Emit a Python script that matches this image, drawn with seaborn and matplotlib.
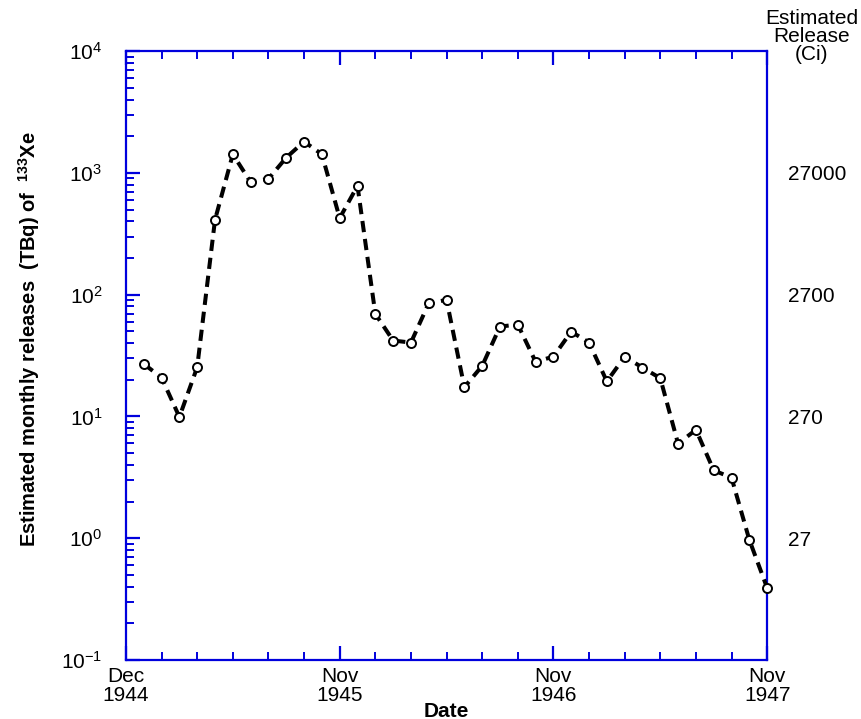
import numpy as np
import pandas as pd
import matplotlib
matplotlib.use("Agg")
import matplotlib.pyplot as plt
import seaborn as sns
from matplotlib.ticker import LogLocator, NullFormatter, FixedLocator, MultipleLocator

# ---- data (months after Dec 1944) ----
months = list(range(1, 37))
releases_tbq = [27, 20.8, 9.9, 25.4, 412, 1420, 839, 893, 1334, 1806, 1420, 425,
                782, 69.5, 42, 40.4, 85, 90.5, 17.4, 26, 54.7, 56.8, 28.1, 31,
                49.7, 40.4, 19.4, 30.9, 25.2, 20.6, 5.97, 7.78, 3.61, 3.14, 0.97, 0.39]
x_tick_pos = [0, 12, 24, 36]
x_tick_labels = ["Dec\n1944", "Nov\n1945", "Nov\n1946", "Nov\n1947"]
y_ticks = [1e-1, 1e0, 1e1, 1e2, 1e3, 1e4]
y_tick_labels = [r"$\mathregular{10^{-1}}$", r"$\mathregular{10^{0}}$", r"$\mathregular{10^{1}}$",
                 r"$\mathregular{10^{2}}$", r"$\mathregular{10^{3}}$", r"$\mathregular{10^{4}}$"]
ci_ticks = [1e0, 1e1, 1e2, 1e3]
ci_labels = ["27", "270", "2700", "27000"]

df = pd.DataFrame({"month": months, "release": releases_tbq})

sns.set_style("white")
plt.rcParams["font.family"] = ["Liberation Sans", "DejaVu Sans"]
plt.rcParams["mathtext.fontset"] = "custom"
plt.rcParams["mathtext.rm"] = "Liberation Sans"
plt.rcParams["mathtext.bf"] = "Liberation Sans:bold"
plt.rcParams["mathtext.it"] = "Liberation Sans:italic"
plt.rcParams["text.color"] = "black"
plt.rcParams["axes.labelcolor"] = "black"

fig = plt.figure(figsize=(8.61, 7.19), dpi=100)
ax = fig.add_axes([0.1463, 0.082, 0.891 - 0.1463, 0.929 - 0.082])

sns.lineplot(data=df, x="month", y="release", ax=ax, color="black",
             linestyle=(0, (2.8, 1.7)), linewidth=2.9, marker="o", markersize=6.5,
             markerfacecolor="white", markeredgecolor="black", markeredgewidth=1.4,
             zorder=3, clip_on=False)

ax.set_yscale("log")
ax.set_ylim(1e-1, 1e4)
ax.set_xlim(0, 36)

blue = "#0000dd"
for sp in ax.spines.values():
    sp.set_color(blue)
    sp.set_linewidth(1.6)
    sp.set_visible(True)

ax.set_yticks(y_ticks)
ax.set_yticklabels(y_tick_labels)
ax.yaxis.set_minor_locator(LogLocator(base=10, subs=np.arange(2, 10), numticks=20))
ax.yaxis.set_minor_formatter(NullFormatter())
ax.set_xticks(x_tick_pos)
ax.set_xticklabels(x_tick_labels, linespacing=1.0)
ax.xaxis.set_minor_locator(MultipleLocator(2))

ax.tick_params(which="major", direction="in", length=10, width=1.6, color=blue,
               labelcolor="black", labelsize=15, top=True, right=True, left=True,
               bottom=True)
ax.tick_params(which="minor", direction="in", length=6, width=1.4, color=blue,
               top=True, right=True, left=True, bottom=True)
ax.tick_params(axis="y", which="major", pad=17)
ax.tick_params(axis="x", which="major", pad=5)

ax.set_xlabel("Date", fontsize=15, fontweight="bold", labelpad=-2.5)
ax.set_ylabel(r"Estimated monthly releases  (TBq) of  $\mathbf{^{133}Xe}$",
              fontsize=14.5, fontweight="bold")
ax.yaxis.set_label_coords(-0.131, 0.527)

# right axis (Ci)
ax2 = ax.twinx()
ax2.set_yscale("log")
ax2.set_ylim(1e-1, 1e4)
ax2.yaxis.set_major_locator(FixedLocator(ci_ticks))
ax2.set_yticklabels(ci_labels)
ax2.yaxis.set_minor_locator(FixedLocator([]))
ax2.tick_params(axis="y", which="major", length=0, labelsize=15, pad=15,
                labelcolor="black")
for sp in ax2.spines.values():
    sp.set_visible(False)

fig.text(0.943, 0.988, "Estimated\nRelease\n(Ci)", ha="center", va="top",
         fontsize=15, linespacing=0.95)

fig.savefig("out.png", dpi=100, facecolor="white")
